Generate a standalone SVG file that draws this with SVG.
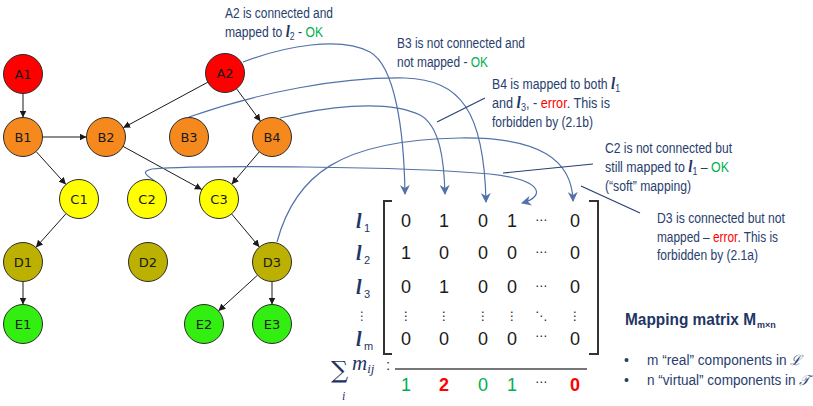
<svg xmlns="http://www.w3.org/2000/svg" width="813" height="406" viewBox="0 0 813 406">
<style>
.node circle{stroke:#2b2b2b;stroke-width:1}
.node text{font-family:"DejaVu Sans",sans-serif;font-size:13px;fill:#1a1a1a;text-anchor:middle;dominant-baseline:central}
.edge{stroke:#1a1a1a;stroke-width:1;fill:none;marker-end:url(#ah)}
.map{stroke:#5272a8;stroke-width:1.2;fill:none;marker-end:url(#bh)}
.ptr{stroke:#263f70;stroke-width:1.2;fill:none}
.ann{font-family:"Liberation Sans",sans-serif;font-size:14px;fill:#283e6e}
.ok{fill:#00b050}
.err{fill:#ff0000}
.ll{font-family:"Liberation Serif",serif;font-style:italic;font-weight:bold;font-size:17px;fill:#1f3564}
.sub{font-size:10px}
.mx{font-family:"Liberation Sans",sans-serif;font-size:18px;fill:#1a1a1a;text-anchor:middle}
.mx.ok{fill:#00b050}
.mx.err{fill:#ff0000;font-weight:bold}
.dots{font-family:"DejaVu Sans",sans-serif;font-size:12px;fill:#1a1a1a;text-anchor:middle}
.rl{font-family:"Liberation Serif",serif;font-style:italic;font-weight:bold;font-size:20px;fill:#1f3564}
.rs{font-family:"Liberation Sans",sans-serif;font-size:11px;fill:#1f3564}
.A{fill:#ff0000}.B{fill:#f5891e}.C{fill:#ffff00}.D{fill:#bcb000}.E{fill:#33ee11}
</style>
<defs>
<marker id="ah" viewBox="0 0 10 10" refX="10" refY="5" markerWidth="7" markerHeight="7" markerUnits="userSpaceOnUse" orient="auto">
<path d="M0,0 L10,5 L0,10 z" fill="#1a1a1a"/>
</marker>
<marker id="bh" viewBox="0 0 10 10" refX="9" refY="5" markerWidth="10" markerHeight="10" markerUnits="userSpaceOnUse" orient="auto">
<path d="M0,0 L10,5 L0,10 L3,5 z" fill="#5272a8"/>
</marker>
</defs>

<g id="connectors">
<line class="edge" x1="23" y1="93.5" x2="23" y2="117.5"/>
<line class="edge" x1="42.5" y1="137" x2="86.5" y2="137"/>
<line class="edge" x1="207.8" y1="82.2" x2="123.2" y2="127.8"/>
<line class="edge" x1="236.5" y1="88.7" x2="260.5" y2="121.3"/>
<line class="edge" x1="36.1" y1="151.5" x2="65.9" y2="184.5"/>
<line class="edge" x1="123.1" y1="146.4" x2="201.9" y2="189.6"/>
<line class="edge" x1="259.3" y1="151.8" x2="231.7" y2="184.2"/>
<line class="edge" x1="66.1" y1="213.6" x2="35.9" y2="247.4"/>
<line class="edge" x1="231.6" y1="213.9" x2="259.4" y2="247.1"/>
<line class="edge" x1="23" y1="281.5" x2="23" y2="304.5"/>
<line class="edge" x1="257.6" y1="275.1" x2="218.4" y2="310.9"/>
<line class="edge" x1="272" y1="281.5" x2="272" y2="304.5"/>

<path class="map" d="M243,62 C285,46 340,36 370,52 C395,66 404,130 405,194"/>
<path class="map" d="M189,117 C260,92 340,77 405,78 C460,80 484,110 486,202"/>
<path class="map" d="M280,118 C320,108 385,98 420,115 C440,126 444,160 445,194"/>
<path class="map" d="M156,182 C150,177 138,172 152,169 C200,165 400,166 490,174 C545,180 545,197 522,203"/>
<path class="map" d="M277,242 C295,175 340,140 460,138 C540,137 572,160 573,201"/>

<line class="ptr" x1="437" y1="122" x2="485" y2="98"/>
<line class="ptr" x1="503" y1="173" x2="593" y2="164"/>
<line class="ptr" x1="581" y1="186" x2="640" y2="213"/>
</g>

<g id="A1" class="node"><circle class="A" cx="23" cy="74" r="19.5"/><text x="23" y="74">A1</text></g>
<g id="A2" class="node"><circle class="A" cx="225" cy="73" r="19.5"/><text x="225" y="73">A2</text></g>
<g id="B1" class="node"><circle class="B" cx="23" cy="137" r="19.5"/><text x="23" y="137">B1</text></g>
<g id="B2" class="node"><circle class="B" cx="106" cy="137" r="19.5"/><text x="106" y="137">B2</text></g>
<g id="B3" class="node"><circle class="B" cx="189" cy="137" r="19.5"/><text x="189" y="137">B3</text></g>
<g id="B4" class="node"><circle class="B" cx="272" cy="137" r="19.5"/><text x="272" y="137">B4</text></g>
<g id="C1" class="node"><circle class="C" cx="79" cy="199" r="19.5"/><text x="79" y="199">C1</text></g>
<g id="C2" class="node"><circle class="C" cx="147" cy="199" r="19.5"/><text x="147" y="199">C2</text></g>
<g id="C3" class="node"><circle class="C" cx="219" cy="199" r="19.5"/><text x="219" y="199">C3</text></g>
<g id="D1" class="node"><circle class="D" cx="23" cy="262" r="19.5"/><text x="23" y="262">D1</text></g>
<g id="D2" class="node"><circle class="D" cx="148" cy="262" r="19.5"/><text x="148" y="262">D2</text></g>
<g id="D3" class="node"><circle class="D" cx="272" cy="262" r="19.5"/><text x="272" y="262">D3</text></g>
<g id="E1" class="node"><circle class="E" cx="23" cy="324" r="19.5"/><text x="23" y="324">E1</text></g>
<g id="E2" class="node"><circle class="E" cx="204" cy="324" r="19.5"/><text x="204" y="324">E2</text></g>
<g id="E3" class="node"><circle class="E" cx="272" cy="324" r="19.5"/><text x="272" y="324">E3</text></g>

<g id="annotations">
<text class="ann" x="225" y="18" textLength="108" lengthAdjust="spacingAndGlyphs">A2 is connected and</text>
<text class="ann" x="225" y="37" textLength="98" lengthAdjust="spacingAndGlyphs">mapped to <tspan class="ll">l</tspan><tspan class="sub" dy="3">2</tspan><tspan dy="-3"> - </tspan><tspan class="ok">OK</tspan></text>
<text class="ann" x="397" y="48" textLength="128" lengthAdjust="spacingAndGlyphs">B3 is not connected and</text>
<text class="ann" x="397" y="67" textLength="91" lengthAdjust="spacingAndGlyphs">not mapped - <tspan class="ok">OK</tspan></text>
<text class="ann" x="492" y="89" textLength="128" lengthAdjust="spacingAndGlyphs">B4 is mapped to both <tspan class="ll">l</tspan><tspan class="sub" dy="3">1</tspan></text>
<text class="ann" x="492" y="108" textLength="118" lengthAdjust="spacingAndGlyphs">and <tspan class="ll">l</tspan><tspan class="sub" dy="3">3</tspan><tspan dy="-3">, - </tspan><tspan class="err">error</tspan>. This is</text>
<text class="ann" x="492" y="127" textLength="101" lengthAdjust="spacingAndGlyphs">forbidden by (2.1b)</text>
<text class="ann" x="605" y="153" textLength="127" lengthAdjust="spacingAndGlyphs">C2 is not connected but</text>
<text class="ann" x="605" y="172" textLength="124" lengthAdjust="spacingAndGlyphs">still mapped to <tspan class="ll">l</tspan><tspan class="sub" dy="3">1</tspan><tspan dy="-3"> – </tspan><tspan class="ok">OK</tspan></text>
<text class="ann" x="605" y="191" textLength="86" lengthAdjust="spacingAndGlyphs">(“soft” mapping)</text>
<text class="ann" x="657" y="223" textLength="128" lengthAdjust="spacingAndGlyphs">D3 is connected but not</text>
<text class="ann" x="657" y="242" textLength="121" lengthAdjust="spacingAndGlyphs">mapped – <tspan class="err">error</tspan>. This is</text>
<text class="ann" x="657" y="260" textLength="101" lengthAdjust="spacingAndGlyphs">forbidden by (2.1a)</text>
</g>

<g id="matrix">
<path d="M392,201 H384 V354 H392" fill="none" stroke="#333" stroke-width="2"/>
<path d="M589,201 H598 V354 H589" fill="none" stroke="#333" stroke-width="2"/>
<text class="rl" x="356" y="228">l</text><text class="rs" x="364" y="232">1</text>
<text class="rl" x="356" y="260">l</text><text class="rs" x="364" y="264">2</text>
<text class="rl" x="356" y="294">l</text><text class="rs" x="364" y="298">3</text>
<text class="dots" x="362" y="320" style="fill:#1f3564">⋮</text>
<text class="rl" x="356" y="346">l</text><text class="rs" x="364" y="350">m</text>

<text class="mx" x="406" y="227">0</text><text class="mx" x="444" y="227">1</text><text class="mx" x="483" y="227">0</text><text class="mx" x="512" y="227">1</text><text class="dots" x="541" y="224">⋯</text><text class="mx" x="575" y="227">0</text>
<text class="mx" x="406" y="259">1</text><text class="mx" x="444" y="259">0</text><text class="mx" x="483" y="259">0</text><text class="mx" x="512" y="259">0</text><text class="dots" x="541" y="256">⋯</text><text class="mx" x="575" y="259">0</text>
<text class="mx" x="406" y="293">0</text><text class="mx" x="444" y="293">1</text><text class="mx" x="483" y="293">0</text><text class="mx" x="512" y="293">0</text><text class="dots" x="541" y="290">⋯</text><text class="mx" x="575" y="293">0</text>
<text class="dots" x="406" y="320">⋮</text><text class="dots" x="444" y="320">⋮</text><text class="dots" x="483" y="320">⋮</text><text class="dots" x="512" y="320">⋮</text><text class="dots" x="541" y="320">⋱</text><text class="dots" x="575" y="320">⋮</text>
<text class="mx" x="406" y="345">0</text><text class="mx" x="444" y="345">0</text><text class="mx" x="483" y="345">0</text><text class="mx" x="512" y="345">0</text><text class="dots" x="541" y="340">⋯</text><text class="mx" x="575" y="345">0</text>

<line x1="395" y1="369" x2="587" y2="369" stroke="#777" stroke-width="2"/>
<text x="331" y="378" font-family="DejaVu Serif,serif" font-size="24" fill="#1f3564">∑</text>
<text x="342" y="400" font-family="Liberation Serif,serif" font-style="italic" font-size="12" fill="#1f3564">i</text>
<text x="352" y="370" font-family="Liberation Serif,serif" font-style="italic" font-size="21" fill="#1f3564">m<tspan font-size="13" dy="3">ij</tspan></text>
<text x="386" y="370" font-family="Liberation Sans,sans-serif" font-size="15" fill="#1f3564">:</text>
<text class="mx ok" x="406" y="391">1</text>
<text class="mx err" x="444" y="391">2</text>
<text class="mx ok" x="483" y="391">0</text>
<text class="mx ok" x="512" y="391">1</text>
<text class="dots" x="541" y="386">⋯</text>
<text class="mx err" x="575" y="391">0</text>
</g>

<g id="legend">
<text x="625" y="325" font-family="Liberation Sans,sans-serif" font-weight="bold" font-size="17" fill="#1f3564" textLength="131" lengthAdjust="spacingAndGlyphs">Mapping matrix M</text>
<text x="757" y="328" font-family="Liberation Sans,sans-serif" font-weight="bold" font-size="9" fill="#1f3564">m×n</text>
<text x="624" y="365" font-family="Liberation Sans,sans-serif" font-size="14" fill="#283e6e">•</text>
<text class="ann" x="647" y="365" textLength="155" lengthAdjust="spacingAndGlyphs">m “real” components in <tspan font-family="Liberation Serif,serif" font-style="italic">ℒ</tspan></text>
<text x="624" y="385" font-family="Liberation Sans,sans-serif" font-size="14" fill="#283e6e">•</text>
<text class="ann" x="647" y="385" textLength="163" lengthAdjust="spacingAndGlyphs">n “virtual” components in <tspan font-family="Liberation Serif,serif" font-style="italic">𝒯</tspan></text>
</g>
</svg>
